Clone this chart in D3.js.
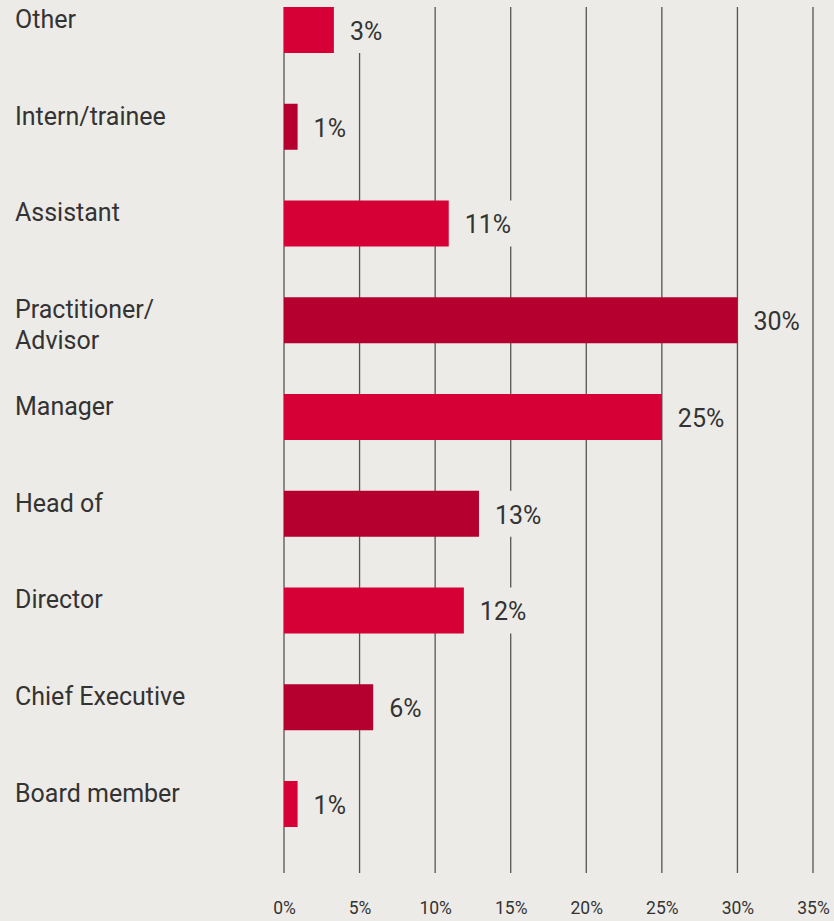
<!DOCTYPE html>
<html>
<head>
<meta charset="utf-8">
<script src="https://cdn.jsdelivr.net/npm/d3@7"></script>
<style>
  html, body { margin: 0; padding: 0; background: #edebe7; }
  svg { display: block; }
  text { font-family: Roboto, "Open Sans", sans-serif; fill: #333; }
</style>
</head>
<body>
<svg id="chart" width="834" height="921"></svg>
<script>
const categories = ["Other", "Intern/trainee", "Assistant", "Practitioner/\nAdvisor", "Manager", "Head of", "Director", "Chief Executive", "Board member"];
const values = [3.3, 0.9, 10.9, 30, 25, 12.9, 11.9, 5.9, 0.9];
const valueLabels = ["3%", "1%", "11%", "30%", "25%", "13%", "12%", "6%", "1%"];
const tickValues = [0, 5, 10, 15, 20, 25, 30, 35];
const barColors = ["#d70036", "#b5002f"];

const W = 834, H = 921;
const svg = d3.select("#chart");
svg.append("rect").attr("width", W).attr("height", H).attr("fill", "#edebe7");

const x = d3.scaleLinear().domain([0, 35]).range([284, 813]);
const y = d3.scaleBand().domain(categories).range([7, 827]).paddingInner(0.5245).paddingOuter(0);

// grid lines
svg.append("g").selectAll("line").data(tickValues).join("line")
  .attr("x1", d => x(d)).attr("x2", d => x(d))
  .attr("y1", 7).attr("y2", 873)
  .attr("stroke", "#555").attr("stroke-width", 1.3);

// axis tick labels
const axis = d3.axisBottom(x).tickValues(tickValues).tickFormat(d => d + "%").tickSize(0).tickPadding(0);
const ag = svg.append("g").attr("transform", "translate(0,902)").call(axis);
ag.select(".domain").remove();
ag.selectAll("text").style("font-family", "Roboto, sans-serif").style("font-size", "17.5px").attr("fill", "#333").attr("dy", "0.71em");

// bars
const rows = svg.append("g").selectAll("g").data(categories).join("g");
rows.append("rect")
  .attr("x", x(0))
  .attr("y", d => y(d))
  .attr("width", (d, i) => x(values[i]) - x(0))
  .attr("height", y.bandwidth())
  .attr("fill", (d, i) => barColors[i % 2]);

// value label backgrounds + labels
rows.each(function(d, i) {
  const g = d3.select(this);
  const bg = g.append("rect").attr("fill", "#edebe7");
  const t = g.append("text")
    .attr("x", x(values[i]) + 16)
    .attr("y", y(d) + 33)
    .style("font-size", "25px")
    .text(valueLabels[i]);
  const len = t.node().getComputedTextLength();
  bg.attr("x", x(values[i]) + 10).attr("y", y(d))
    .attr("width", len + 12).attr("height", y.bandwidth());
});

// category labels
rows.append("text")
  .attr("x", 15)
  .attr("y", d => y(d) + 21)
  .style("font-size", "25px")
  .each(function(d) {
    const lines = d.split("\n");
    d3.select(this).selectAll("tspan").data(lines).join("tspan")
      .attr("x", 15)
      .attr("dy", (l, j) => j === 0 ? 0 : 31)
      .text(l => l);
  });
</script>
</body>
</html>
